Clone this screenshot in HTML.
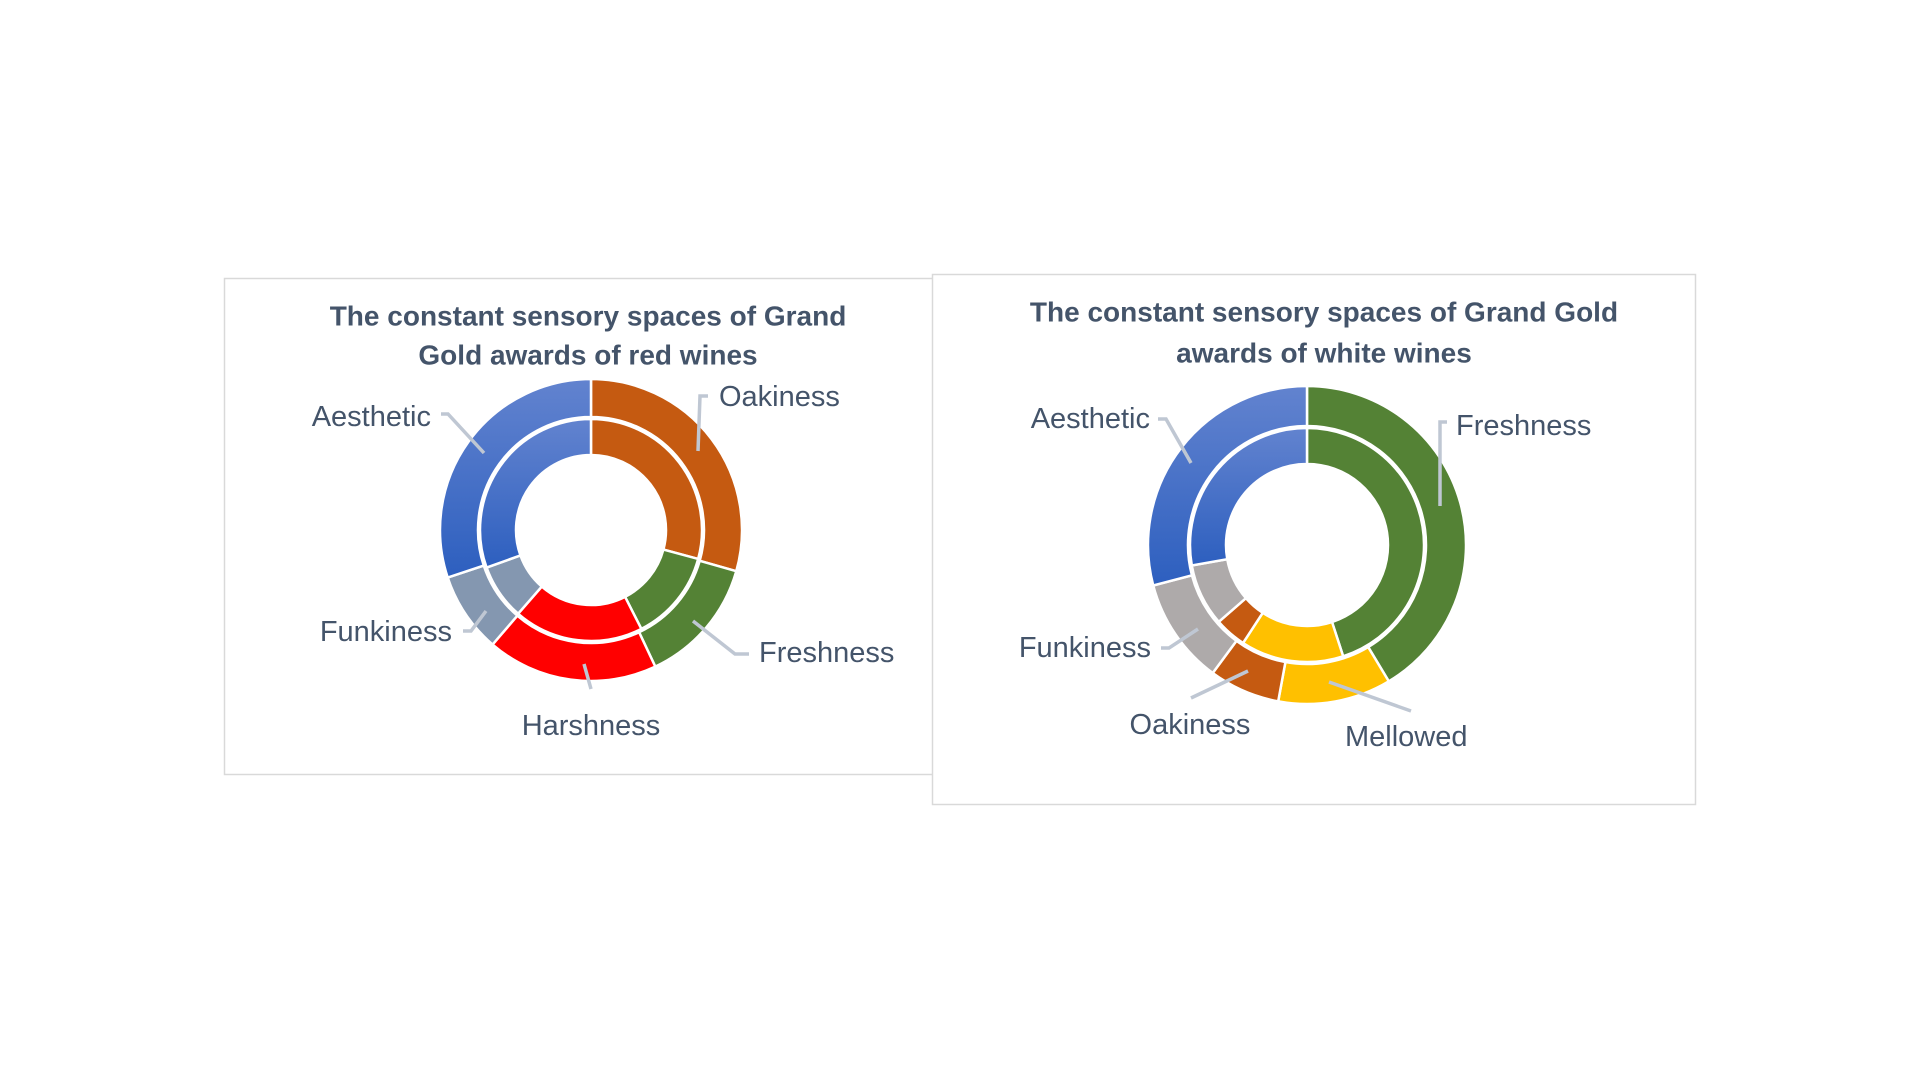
<!DOCTYPE html>
<html><head><meta charset="utf-8"><style>
html,body{margin:0;padding:0;background:#fff;}
body{width:1920px;height:1080px;position:relative;overflow:hidden;font-family:"Liberation Sans",sans-serif;}
svg{position:absolute;left:0;top:0;}
</style></head><body>
<svg id="chart" width="1920" height="1080" viewBox="0 0 1920 1080">
<defs>
<linearGradient id="blueGrad" x1="0" y1="0" x2="0" y2="1">
<stop offset="0" stop-color="#6283cf"/><stop offset="1" stop-color="#2d5fbf"/>
</linearGradient>
</defs>
<rect x="224.5" y="278.5" width="709" height="496" fill="#fff" stroke="#d9d9d9" stroke-width="1.5"/>
<rect x="932.5" y="274.5" width="763" height="530" fill="#fff" stroke="#d9d9d9" stroke-width="1.5"/>
<g id="g1"></g><g id="g2"></g>
</svg>
<script>
// Red wines
const redCategories = ["Oakiness","Freshness","Harshness","Funkiness","Aesthetic"];
const redOuter = [29.4,13.6,18.3,8.6,30.1];
const redInner = [29.2,13.3,18.9,8.1,30.5];
// White wines
const whiteCategories = ["Freshness","Mellowed","Oakiness","Funkiness","Aesthetic"];
const whiteOuter = [41.4,11.5,7.2,10.8,29.1];
const whiteInner = [45.0,14.2,4.4,8.6,27.8];

const NS="http://www.w3.org/2000/svg";
function el(tag,attrs,parent){const e=document.createElementNS(NS,tag);for(const k in attrs)e.setAttribute(k,attrs[k]);parent.appendChild(e);return e;}
function pt(cx,cy,r,a){const t=a*Math.PI/180;return [cx+r*Math.sin(t),cy-r*Math.cos(t)];}
function arc(cx,cy,r0,r1,a0,a1){
  const large=(a1-a0)>180?1:0;
  const p0=pt(cx,cy,r1,a0),p1=pt(cx,cy,r1,a1),p2=pt(cx,cy,r0,a1),p3=pt(cx,cy,r0,a0);
  return `M${p0[0]},${p0[1]}A${r1},${r1} 0 ${large} 1 ${p1[0]},${p1[1]}L${p2[0]},${p2[1]}A${r0},${r0} 0 ${large} 0 ${p3[0]},${p3[1]}Z`;
}
function ring(g,cx,cy,r0,r1,vals,cats,colors,prefix){
  const tot=vals.reduce((a,b)=>a+b,0);let a=0;
  vals.forEach((v,i)=>{
    const a1=a+v/tot*360;
    const p=el("path",{d:arc(cx,cy,r0,r1,a,a1),fill:colors[i],stroke:"#fff","stroke-width":"2.5"},g);
    
    
    a=a1;
  });
}
function text(g,x,y,s,anchor,size,bold,name){
  const t=el("text",{x:x,y:y,"text-anchor":anchor,"font-size":size,"font-weight":bold?"bold":"normal",fill:"#44546a","dominant-baseline":"central","font-family":"Liberation Sans, sans-serif"},g);
  t.textContent=s;
  
  
}
function leader(g,pts,name){
  const l=el("polyline",{points:pts.map(p=>p.join(",")).join(" "),fill:"none",stroke:"#bfc7d3","stroke-width":"3.5"},g);
  
  
}
const B="url(#blueGrad)";
const LS=29, TS=28;
// chart 1
const g1=document.getElementById("g1");
const redColors=["#c55a11","#548235","#ff0000","#8497b0",B];
ring(g1,591,530,113,151,redOuter,redCategories,redColors,"red-outer");
ring(g1,591,530,75,111,redInner,redCategories,redColors,"red-inner");
text(g1,588,316,"The constant sensory spaces of Grand","middle",TS,true,"red-title-line1");
text(g1,588,355,"Gold awards of red wines","middle",TS,true,"red-title-line2");
text(g1,431,417,"Aesthetic","end",LS,false,"label-aesthetic");
text(g1,719,397,"Oakiness","start",LS,false,"label-oakiness");
text(g1,759,653,"Freshness","start",LS,false,"label-freshness");
text(g1,591,726,"Harshness","middle",LS,false,"label-harshness");
text(g1,452,632,"Funkiness","end",LS,false,"label-funkiness");
leader(g1,[[441,414],[448,414],[484,453]],"leader-aesthetic");
leader(g1,[[708,396],[700,396],[698,451]],"leader-oakiness");
leader(g1,[[749,654],[735,654],[693,621]],"leader-freshness");
leader(g1,[[584,664],[591,689]],"leader-harshness");
leader(g1,[[463,631],[471,631],[486,611]],"leader-funkiness");
// chart 2
const g2=document.getElementById("g2");
const whiteColors=["#548235","#ffc000","#c55a11","#aeaaaa",B];
ring(g2,1307,545,119,159,whiteOuter,whiteCategories,whiteColors,"white-outer");
ring(g2,1307,545,81,117,whiteInner,whiteCategories,whiteColors,"white-inner");
text(g2,1324,312,"The constant sensory spaces of Grand Gold","middle",TS,true,"white-title-line1");
text(g2,1324,353,"awards of white wines","middle",TS,true,"white-title-line2");
text(g2,1150,419,"Aesthetic","end",LS,false,"label-aesthetic-white");
text(g2,1456,426,"Freshness","start",LS,false,"label-freshness-white");
text(g2,1151,648,"Funkiness","end",LS,false,"label-funkiness-white");
text(g2,1190,725,"Oakiness","middle",LS,false,"label-oakiness-white");
text(g2,1345,737,"Mellowed","start",LS,false,"label-mellowed-white");
leader(g2,[[1158,419],[1166,419],[1191,463]],"leader-aesthetic-white");
leader(g2,[[1447,422],[1440,422],[1440,506]],"leader-freshness-white");
leader(g2,[[1161,648],[1169,648],[1198,629]],"leader-funkiness-white");
leader(g2,[[1191,698],[1248,671]],"leader-oakiness-white");
leader(g2,[[1411,711],[1329,682]],"leader-mellowed-white");
</script>
</body></html>
